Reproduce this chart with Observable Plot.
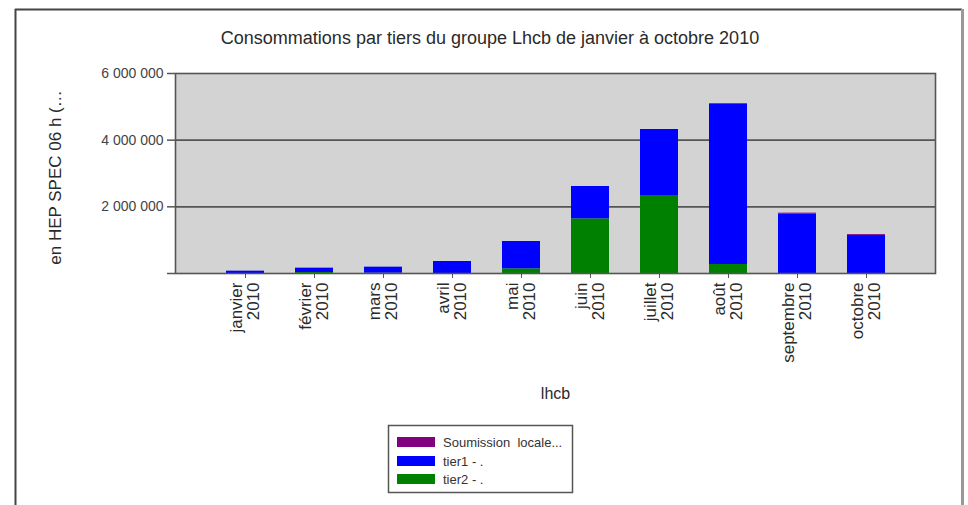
<!DOCTYPE html>
<html>
<head>
<meta charset="utf-8">
<script src="https://cdn.jsdelivr.net/npm/d3@7"></script>
<script src="https://cdn.jsdelivr.net/npm/@observablehq/plot@0.6"></script>
<style>
  html, body { margin: 0; padding: 0; background: #fff; }
  #chart { position: relative; width: 968px; height: 505px; overflow: hidden; }
</style>
</head>
<body>
<div id="chart"></div>
<script>
// ---- data ----
const title = "Consommations par tiers du groupe Lhcb de janvier à octobre 2010";
const yLabel = "en HEP SPEC 06 h (…";
const xLabel = "lhcb";
const months = ["janvier", "février", "mars", "avril", "mai", "juin", "juillet", "août", "septembre", "octobre"];
const year = "2010";
const seriesNames = ["Soumission  locale...", "tier1 - .", "tier2 - ."];
const seriesColors = ["#800080", "#0000ff", "#008000"];
const tier2 = [0, 30000, 10000, 0, 140000, 1640000, 2320000, 270000, 0, 0];
const tier1 = [70000, 130000, 180000, 360000, 820000, 970000, 2000000, 4820000, 1780000, 1145000];
const locale = [0, 0, 0, 0, 0, 0, 0, 0, 30000, 25000];
const yTicks = [0, 2000000, 4000000, 6000000];

// long table, stacked bottom-up: tier2, tier1, locale
const rows = [];
months.forEach((m, i) => rows.push({month: m, series: seriesNames[2], value: tier2[i]}));
months.forEach((m, i) => rows.push({month: m, series: seriesNames[1], value: tier1[i]}));
months.forEach((m, i) => rows.push({month: m, series: seriesNames[0], value: locale[i]}));

const fmt = d => d === 0 ? "" : d3.format(",")(d).replace(/,/g, " ");
const font = "'Liberation Sans', Arial, sans-serif";

const plot = Plot.plot({
  width: 968,
  height: 505,
  marginLeft: 175,
  marginRight: 33,
  marginTop: 73,
  marginBottom: 232,
  style: {fontFamily: font, background: "transparent", color: "#333"},
  x: {domain: months, paddingInner: 0.45, paddingOuter: 0.73, label: null},
  y: {domain: [0, 6000000], label: null},
  color: {domain: seriesNames, range: seriesColors},
  marks: [
    Plot.frame({fill: "#d3d3d3", stroke: null}),
    Plot.gridY([2000000, 4000000], {stroke: "#555", strokeOpacity: 1, strokeWidth: 1.6}),
    Plot.barY(rows, Plot.stackY({x: "month", y: "value", fill: "series", order: null})),
    Plot.frame({stroke: "#555", strokeWidth: 1.6}),
    Plot.axisY({ticks: yTicks, tickFormat: fmt, tickSize: 8, tickPadding: 4, fontSize: 14, label: null, stroke: "#555", strokeWidth: 1.5, fill: "#444"}),
    Plot.axisX({tickRotate: -90, tickSize: 5, tickPadding: 4, fontSize: 17, label: null,
      tickFormat: d => d + "\n" + year, stroke: "#555", fill: "#2a2a2a"}),
    Plot.text([yLabel], {frameAnchor: "left", dx: -120, dy: 4, rotate: -90, textAnchor: "middle", text: d => d, fontSize: 17, fill: "#2a2a2a"}),
    Plot.text([xLabel], {frameAnchor: "bottom", dy: 125, text: d => d, fontSize: 16, fill: "#2a2a2a"})
  ]
});

document.getElementById("chart").appendChild(plot);

// decorations: outer frame, title, legend
const svg = d3.select(plot);
svg.append("line").attr("x1", 15).attr("x2", 962).attr("y1", 9.5).attr("y2", 9.5).attr("stroke", "#444").attr("stroke-width", 2);
svg.append("line").attr("x1", 15.5).attr("x2", 15.5).attr("y1", 9).attr("y2", 505).attr("stroke", "#444").attr("stroke-width", 2);
svg.append("line").attr("x1", 962.5).attr("x2", 962.5).attr("y1", 9).attr("y2", 505).attr("stroke", "#999").attr("stroke-width", 3);

svg.append("text").attr("x", 490).attr("y", 44).attr("text-anchor", "middle")
  .attr("font-family", font).attr("font-size", 18).attr("fill", "#2a2a2a").text(title);

const lg = svg.append("g");
lg.append("rect").attr("x", 388.5).attr("y", 425.5).attr("width", 184).attr("height", 67)
  .attr("fill", "#fff").attr("stroke", "#555").attr("stroke-width", 1.5);
const rowY = [442, 461, 479];
seriesNames.forEach((s, i) => {
  lg.append("rect").attr("x", 397).attr("y", rowY[i] - 5).attr("width", 38).attr("height", 10).attr("fill", seriesColors[i]);
  lg.append("text").attr("x", 443).attr("y", rowY[i] + 4.5).attr("text-anchor", "start").attr("font-family", font).attr("font-size", 13)
    .attr("fill", "#333").attr("xml:space", "preserve").style("white-space", "pre").text(s);
});
</script>
</body>
</html>
